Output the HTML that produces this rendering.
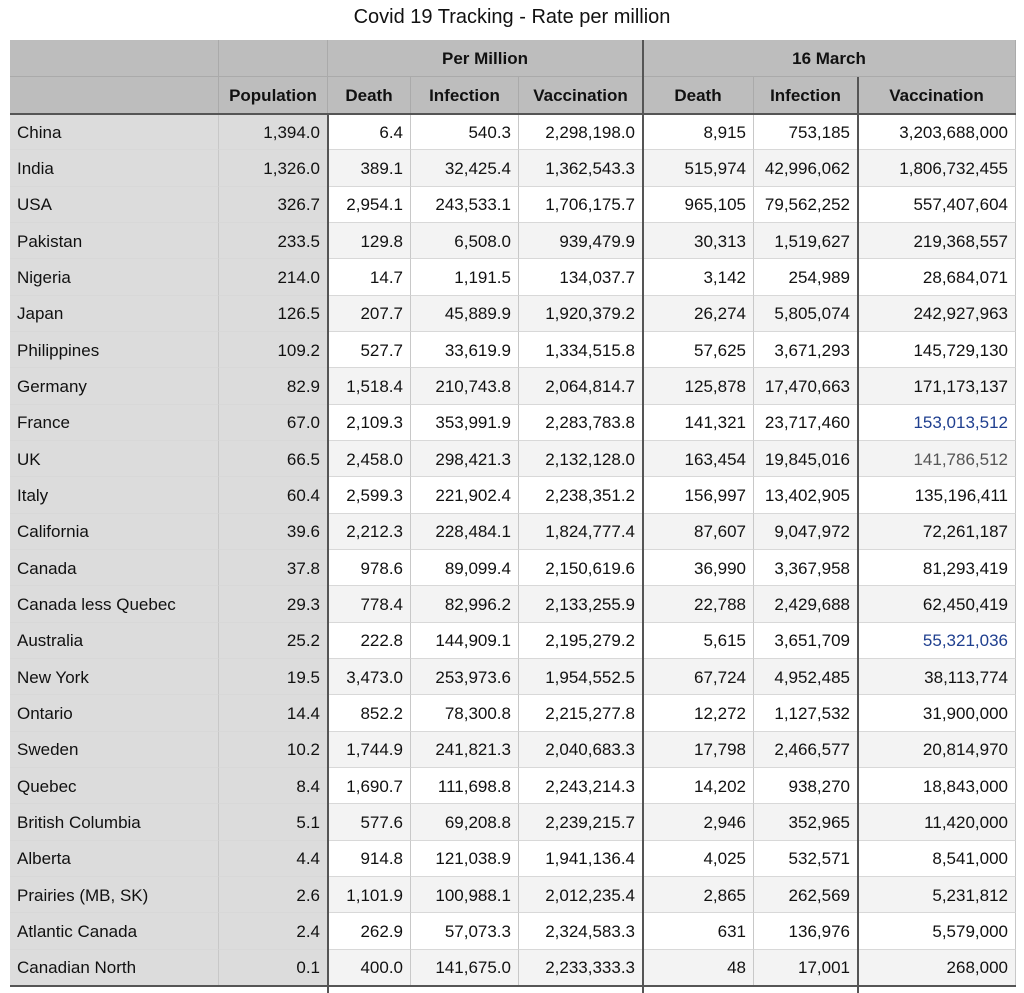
<!DOCTYPE html>
<html><head><meta charset="utf-8"><style>
body{margin:0;width:1024px;height:993px;background:#fff;font-family:"Liberation Sans",Arial,sans-serif;position:relative;overflow:hidden}
.t{position:absolute;top:6px;left:0;width:1024px;text-align:center;font-size:20px;color:#111}
.g{position:absolute;left:10px;top:40px;display:grid;grid-template-columns:209px 109px 83px 108px 124px 111px 104px 158px;grid-template-rows:37px 37px repeat(24,36.33px)}
.g div{box-sizing:border-box;border-right:1px solid #c8c8c8;border-bottom:1px solid #d8d8d8;font-size:17px;color:#111;display:flex;align-items:center;justify-content:flex-end;padding:2px 7px 0 7px;white-space:nowrap}
.g .h{background:#bdbdbd;font-weight:bold;justify-content:center;border-color:#aaa}
.g .l{background:#dcdcdc;justify-content:flex-start;padding-left:7px}
.g .p{background:#dcdcdc}
.g .a{background:#f3f3f3}
.v{position:absolute;background:#555}
</style></head><body>
<div class="t">Covid 19 Tracking - Rate per million</div>
<div class="g" id="g">
<div class="h"></div><div class="h"></div><div class="h" style="grid-column:span 3">Per Million</div><div class="h" style="grid-column:span 3">16 March</div>
<div class="h"></div><div class="h">Population</div><div class="h">Death</div><div class="h">Infection</div><div class="h">Vaccination</div><div class="h">Death</div><div class="h">Infection</div><div class="h">Vaccination</div>
<div class="l">China</div><div class="p">1,394.0</div><div>6.4</div><div>540.3</div><div>2,298,198.0</div><div>8,915</div><div>753,185</div><div>3,203,688,000</div>
<div class="l">India</div><div class="p">1,326.0</div><div class="a">389.1</div><div class="a">32,425.4</div><div class="a">1,362,543.3</div><div class="a">515,974</div><div class="a">42,996,062</div><div class="a">1,806,732,455</div>
<div class="l">USA</div><div class="p">326.7</div><div>2,954.1</div><div>243,533.1</div><div>1,706,175.7</div><div>965,105</div><div>79,562,252</div><div>557,407,604</div>
<div class="l">Pakistan</div><div class="p">233.5</div><div class="a">129.8</div><div class="a">6,508.0</div><div class="a">939,479.9</div><div class="a">30,313</div><div class="a">1,519,627</div><div class="a">219,368,557</div>
<div class="l">Nigeria</div><div class="p">214.0</div><div>14.7</div><div>1,191.5</div><div>134,037.7</div><div>3,142</div><div>254,989</div><div>28,684,071</div>
<div class="l">Japan</div><div class="p">126.5</div><div class="a">207.7</div><div class="a">45,889.9</div><div class="a">1,920,379.2</div><div class="a">26,274</div><div class="a">5,805,074</div><div class="a">242,927,963</div>
<div class="l">Philippines</div><div class="p">109.2</div><div>527.7</div><div>33,619.9</div><div>1,334,515.8</div><div>57,625</div><div>3,671,293</div><div>145,729,130</div>
<div class="l">Germany</div><div class="p">82.9</div><div class="a">1,518.4</div><div class="a">210,743.8</div><div class="a">2,064,814.7</div><div class="a">125,878</div><div class="a">17,470,663</div><div class="a">171,173,137</div>
<div class="l">France</div><div class="p">67.0</div><div>2,109.3</div><div>353,991.9</div><div>2,283,783.8</div><div>141,321</div><div>23,717,460</div><div style="color:#1f3f8f">153,013,512</div>
<div class="l">UK</div><div class="p">66.5</div><div class="a">2,458.0</div><div class="a">298,421.3</div><div class="a">2,132,128.0</div><div class="a">163,454</div><div class="a">19,845,016</div><div class="a" style="color:#555">141,786,512</div>
<div class="l">Italy</div><div class="p">60.4</div><div>2,599.3</div><div>221,902.4</div><div>2,238,351.2</div><div>156,997</div><div>13,402,905</div><div>135,196,411</div>
<div class="l">California</div><div class="p">39.6</div><div class="a">2,212.3</div><div class="a">228,484.1</div><div class="a">1,824,777.4</div><div class="a">87,607</div><div class="a">9,047,972</div><div class="a">72,261,187</div>
<div class="l">Canada</div><div class="p">37.8</div><div>978.6</div><div>89,099.4</div><div>2,150,619.6</div><div>36,990</div><div>3,367,958</div><div>81,293,419</div>
<div class="l">Canada less Quebec</div><div class="p">29.3</div><div class="a">778.4</div><div class="a">82,996.2</div><div class="a">2,133,255.9</div><div class="a">22,788</div><div class="a">2,429,688</div><div class="a">62,450,419</div>
<div class="l">Australia</div><div class="p">25.2</div><div>222.8</div><div>144,909.1</div><div>2,195,279.2</div><div>5,615</div><div>3,651,709</div><div style="color:#1f3f8f">55,321,036</div>
<div class="l">New York</div><div class="p">19.5</div><div class="a">3,473.0</div><div class="a">253,973.6</div><div class="a">1,954,552.5</div><div class="a">67,724</div><div class="a">4,952,485</div><div class="a">38,113,774</div>
<div class="l">Ontario</div><div class="p">14.4</div><div>852.2</div><div>78,300.8</div><div>2,215,277.8</div><div>12,272</div><div>1,127,532</div><div>31,900,000</div>
<div class="l">Sweden</div><div class="p">10.2</div><div class="a">1,744.9</div><div class="a">241,821.3</div><div class="a">2,040,683.3</div><div class="a">17,798</div><div class="a">2,466,577</div><div class="a">20,814,970</div>
<div class="l">Quebec</div><div class="p">8.4</div><div>1,690.7</div><div>111,698.8</div><div>2,243,214.3</div><div>14,202</div><div>938,270</div><div>18,843,000</div>
<div class="l">British Columbia</div><div class="p">5.1</div><div class="a">577.6</div><div class="a">69,208.8</div><div class="a">2,239,215.7</div><div class="a">2,946</div><div class="a">352,965</div><div class="a">11,420,000</div>
<div class="l">Alberta</div><div class="p">4.4</div><div>914.8</div><div>121,038.9</div><div>1,941,136.4</div><div>4,025</div><div>532,571</div><div>8,541,000</div>
<div class="l">Prairies (MB, SK)</div><div class="p">2.6</div><div class="a">1,101.9</div><div class="a">100,988.1</div><div class="a">2,012,235.4</div><div class="a">2,865</div><div class="a">262,569</div><div class="a">5,231,812</div>
<div class="l">Atlantic Canada</div><div class="p">2.4</div><div>262.9</div><div>57,073.3</div><div>2,324,583.3</div><div>631</div><div>136,976</div><div>5,579,000</div>
<div class="l">Canadian North</div><div class="p">0.1</div><div class="a">400.0</div><div class="a">141,675.0</div><div class="a">2,233,333.3</div><div class="a">48</div><div class="a">17,001</div><div class="a">268,000</div>
</div>
<div class="v" style="left:10px;top:113px;width:1006px;height:2px"></div>
<div class="v" style="left:327px;top:114px;width:2px;height:879px"></div>
<div class="v" style="left:642px;top:40px;width:2px;height:953px"></div>
<div class="v" style="left:857px;top:77px;width:2px;height:916px"></div>
<div class="v" style="left:10px;top:985px;width:1006px;height:2px"></div>
<div style="position:absolute;left:10px;top:987px;width:1006px;height:6px;background:#fff"></div>
<div class="v" style="left:327px;top:987px;width:2px;height:6px"></div>
<div class="v" style="left:642px;top:987px;width:2px;height:6px"></div>
<div class="v" style="left:857px;top:987px;width:2px;height:6px"></div>
</body></html>
